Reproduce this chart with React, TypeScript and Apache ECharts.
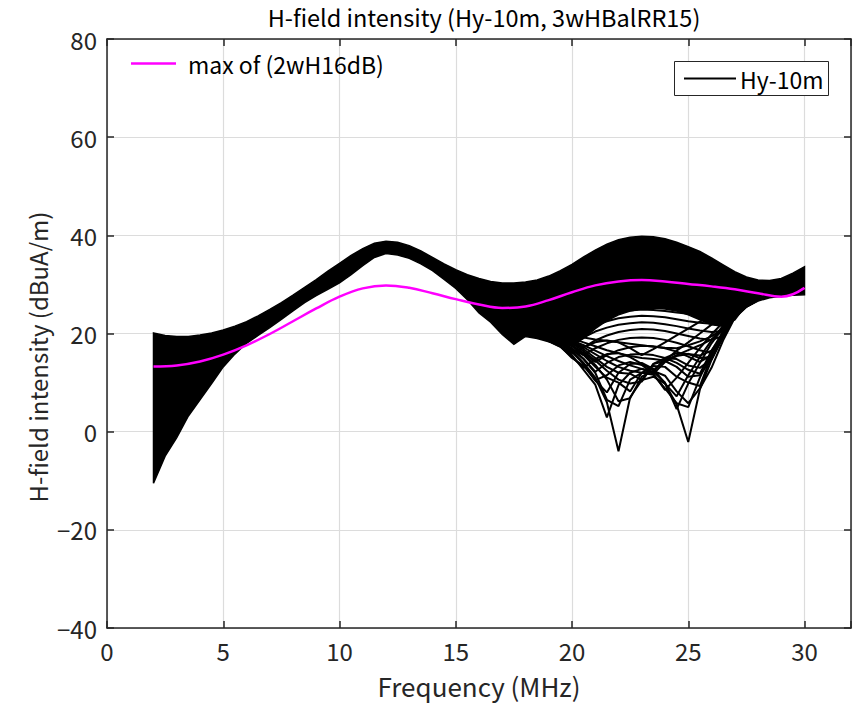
import React, { useEffect, useRef } from "react";
import * as echarts from "echarts";

// Frequency grid (MHz) for the dense band of Hy-10m curves
const bandFreq = [2, 2.5, 3, 3.5, 4, 4.5, 5, 5.5, 6, 6.5, 7, 7.5, 8, 8.5, 9, 9.5, 10, 10.5, 11, 11.5, 12, 12.5, 13, 13.5, 14, 14.5, 15, 15.5, 16, 16.5, 17, 17.5, 18, 18.5, 19, 19.5, 20, 20.5, 21, 21.5, 22, 22.5, 23, 23.5, 24, 24.5, 25, 25.5, 26, 26.5, 27, 27.5, 28, 28.5, 29, 29.5, 30];
// upper envelope of the Hy-10m family (dBuA/m)
const bandUpper = [20.1, 19.6, 19.4, 19.4, 19.7, 20.1, 20.7, 21.5, 22.4, 23.6, 24.9, 26.3, 27.8, 29.4, 31.0, 32.7, 34.3, 35.9, 37.3, 38.4, 38.8, 38.6, 37.9, 36.8, 35.5, 34.2, 33.0, 32.0, 31.2, 30.6, 30.3, 30.3, 30.5, 30.9, 31.7, 32.8, 34.1, 35.6, 37.0, 38.2, 39.1, 39.6, 39.8, 39.7, 39.3, 38.6, 37.7, 36.7, 35.4, 34.0, 32.6, 31.5, 30.9, 30.8, 31.2, 32.3, 33.6];
// lower edge of the densely packed part of the family
const bandLower = [-10.5, -5.0, -1.2, 3.2, 6.5, 9.8, 13.2, 15.8, 18.0, 19.6, 21.2, 22.9, 24.6, 26.3, 27.7, 29.0, 30.3, 32.0, 33.8, 35.5, 36.3, 36.0, 35.3, 34.2, 32.8, 31.0, 29.2, 26.9, 24.2, 22.3, 19.8, 17.8, 19.4, 19.0, 18.3, 17.8, 17.6, 19.0, 21.0, 22.6, 23.8, 24.6, 25.0, 25.2, 25.0, 24.6, 23.8, 22.8, 21.8, 21.5, 23.4, 25.4, 26.6, 27.3, 27.6, 27.8, 27.9];

// Frequency grid of the individually visible Hy-10m curves (null region)
const netFreq = [19, 19.5, 20, 20.5, 21, 21.5, 22, 22.5, 23, 23.5, 24, 24.5, 25, 25.5, 26, 26.5, 27, 27.5, 28];
const hyA = [19.0, 18.0, 16.5, 14.0, 11.0, 6.0, -4.0, 7.0, 10.5, 11.2, 9.8, 5.5, -2.1, 8.6, 14.6, 19.3, 23.4, 25.5, 26.8];
const hyB = [18.6, 17.4, 15.6, 12.6, 9.6, 2.9, 9.5, 12.0, 12.8, 12.2, 10.0, 4.6, 9.8, 14.0, 18.0, 21.2, 24.0, 25.8, 27.0];
const hyC = [19.4, 18.6, 17.4, 15.6, 13.2, 11.0, 10.0, 8.2, 12.0, 13.4, 13.2, 11.2, 10.0, 9.3, 15.5, 19.8, 23.6, 25.6, 26.9];
const hyD = [18.5, 17.4, 15.0, 13.4, 10.5, 11.5, 13.5, 14.2, 13.6, 11.8, 8.5, 11.0, 14.0, 17.0, 19.8, 22.3, 24.5, 26.0, 27.1];
const hyE = [19.8, 19.2, 18.2, 16.8, 15.0, 13.2, 12.0, 11.8, 10.5, 13.8, 15.0, 14.8, 13.5, 13.0, 14.8, 20.0, 23.8, 25.7, 27.0];
const hyF = [18.4, 17.3, 15.2, 13.0, 14.8, 15.8, 16.0, 15.2, 13.8, 12.5, 14.5, 16.5, 18.2, 20.0, 21.8, 23.4, 25.0, 26.3, 27.3];
const hyG = [18.8, 18.0, 16.8, 14.8, 12.2, 14.0, 15.2, 15.7, 15.8, 15.6, 15.0, 14.0, 12.6, 11.8, 16.5, 20.4, 23.6, 25.6, 26.9];
const hyH = [19.2, 18.6, 17.6, 16.0, 14.2, 15.6, 16.6, 17.2, 17.5, 17.4, 17.0, 16.3, 15.3, 14.2, 15.6, 20.2, 23.7, 25.7, 27.0];
const hyI = [18.8, 18.0, 16.8, 15.6, 17.0, 18.0, 18.7, 19.1, 19.2, 19.1, 18.7, 18.1, 17.4, 16.6, 16.0, 20.4, 23.8, 25.8, 27.0];
const hyJ = [19.3, 18.7, 17.9, 17.2, 18.6, 19.6, 20.3, 20.7, 20.9, 20.8, 20.5, 20.0, 19.5, 19.0, 18.7, 19.5, 23.9, 25.9, 27.1];
const hyK = [18.9, 18.3, 17.8, 19.2, 20.4, 21.2, 21.8, 22.1, 22.3, 22.2, 21.9, 21.5, 21.0, 20.6, 20.3, 20.5, 24.0, 26.0, 27.1];
const hyL = [19.4, 19.0, 18.8, 20.3, 21.6, 22.5, 23.1, 23.4, 23.6, 23.5, 23.3, 22.9, 22.5, 22.2, 22.0, 22.2, 22.8, 26.0, 27.2];
const hyM = [19.2, 18.9, 20.4, 21.8, 23.0, 23.8, 24.4, 24.7, 24.9, 24.8, 24.6, 24.3, 24.0, 23.8, 23.7, 23.8, 24.1, 26.2, 27.3];
const hyN = [19.8, 20.0, 21.6, 23.0, 24.2, 25.0, 25.6, 25.9, 26.1, 26.0, 25.8, 25.6, 25.3, 25.2, 25.2, 25.3, 25.6, 26.4, 27.4];
const hyO = [19.9, 19.4, 18.6, 17.6, 16.5, 15.4, 14.4, 13.5, 12.8, 11.8, 14.2, 15.4, 15.8, 15.5, 16.5, 19.8, 23.6, 25.6, 26.9];
const hyP = [20.1, 19.7, 19.0, 18.2, 17.4, 16.6, 16.0, 15.4, 15.0, 14.8, 14.5, 15.6, 16.6, 17.6, 18.8, 20.6, 23.9, 25.8, 27.0];
const hyQ = [20.3, 20.0, 19.6, 19.2, 18.8, 18.5, 18.2, 17.9, 17.6, 17.3, 17.1, 17.0, 17.6, 18.4, 19.4, 21.0, 24.0, 25.9, 27.1];
const hyR = [18.5, 17.4, 16.0, 17.2, 18.2, 18.6, 18.2, 17.0, 15.6, 16.8, 18.2, 19.6, 21.0, 22.4, 23.6, 24.8, 26.0, 26.9, 27.6];
const hyS = [18.9, 17.8, 16.2, 13.8, 10.4, 8.0, 12.0, 13.8, 14.0, 12.8, 9.8, 7.2, 11.5, 15.2, 18.6, 21.6, 24.2, 25.9, 27.0];
const hyT = [19.3, 18.4, 17.0, 14.8, 12.0, 6.5, 5.2, 10.6, 12.0, 11.6, 8.8, 5.8, 5.0, 11.0, 16.0, 20.0, 23.6, 25.6, 26.9];
const hyU = [19.5, 18.8, 17.6, 15.8, 13.6, 10.6, 6.2, 6.8, 11.2, 12.4, 11.4, 8.2, 5.8, 8.8, 13.0, 18.6, 23.2, 25.4, 26.8];
const hyV = [19.7, 19.0, 18.0, 16.4, 14.5, 12.4, 10.6, 9.8, 10.2, 13.8, 14.4, 13.2, 11.2, 11.5, 14.8, 19.4, 23.5, 25.6, 26.9];
const hyW = [19.9, 19.3, 18.4, 17.2, 15.8, 14.4, 13.2, 12.4, 12.0, 12.2, 15.0, 16.0, 15.8, 15.0, 15.2, 19.6, 23.6, 25.6, 26.9];
const netCurves = [hyA, hyB, hyC, hyD, hyE, hyF, hyG, hyH, hyI, hyJ, hyK, hyL, hyM, hyN, hyO, hyP, hyQ, hyR, hyS, hyT, hyU, hyV, hyW];

// max of (2wH16dB)
const maxFreq = [2, 3, 4, 5, 6, 7, 8, 9, 10, 11, 12, 13, 14, 15, 16, 17, 18, 19, 20, 21, 22, 23, 24, 25, 26, 27, 28, 29, 29.5, 30];
const maxValues = [13.3, 13.5, 14.3, 15.7, 17.6, 19.9, 22.5, 25.1, 27.5, 29.2, 29.8, 29.3, 28.2, 27.0, 25.9, 25.2, 25.5, 26.8, 28.4, 29.8, 30.6, 30.9, 30.6, 30.1, 29.6, 29.0, 28.2, 27.5, 28.0, 29.3];

const xTicks = [0, 5, 10, 15, 20, 25, 30];
const yTicks = [-40, -20, 0, 20, 40, 60, 80];

const FONT = '"Noto Sans CJK JP", "Noto Sans", sans-serif';
const INK = "#262626";

export default function App() {
  const ref = useRef<HTMLDivElement>(null);
  useEffect(() => {
    if (!ref.current) return;
    const chart = echarts.init(ref.current, null, { renderer: "svg" });

    const axisCommon = {
      axisLine: { show: true, onZero: false, lineStyle: { color: INK, width: 1.5 } },
      axisTick: { show: true, inside: true, length: 7, lineStyle: { color: INK, width: 1.5 } },
    };

    const series: any[] = [];
    series.push({
      type: "custom",
      xAxisIndex: 0,
      yAxisIndex: 0,
      silent: true,
      z: 2,
      data: [0],
      renderItem: (params: any, api: any) => {
        const pts: number[][] = [];
        bandFreq.forEach((f, i) => pts.push(api.coord([f, bandUpper[i]])));
        for (let i = bandFreq.length - 1; i >= 0; i--) pts.push(api.coord([bandFreq[i], bandLower[i]]));
        return {
          type: "polygon",
          shape: { points: pts },
          style: { fill: "#000", stroke: "#000", lineWidth: 1.5 },
        };
      },
    });
    netCurves.forEach((c) => {
      series.push({
        type: "line",
        name: "Hy-10m",
        xAxisIndex: 0,
        yAxisIndex: 0,
        data: netFreq.map((f, i) => [f, c[i]]),
        showSymbol: false,
        symbol: "none",
        lineStyle: { color: "#000", width: 2 },
        silent: true,
        z: 3,
      });
    });
    series.push({
      type: "line",
      name: "max of (2wH16dB)",
      xAxisIndex: 0,
      yAxisIndex: 0,
      data: maxFreq.map((f, i) => [f, maxValues[i]]),
      smooth: 0.4,
      showSymbol: false,
      symbol: "none",
      lineStyle: { color: "#ff00ff", width: 2.5 },
      silent: true,
      z: 5,
    });

    chart.setOption({
      animation: false,
      backgroundColor: "#fff",
      title: {
        text: "H-field intensity (Hy-10m, 3wHBalRR15)",
        left: 479,
        textAlign: "center",
        top: 0,
        textStyle: { fontFamily: FONT, fontSize: 23.5, fontWeight: "normal", color: "#000" },
      },
      grid: { left: 107, right: 7, top: 39, bottom: 75, containLabel: false },
      xAxis: [
        {
          type: "value",
          min: 0,
          max: 32,
          interval: 5,
          position: "bottom",
          ...axisCommon,
          axisLabel: {
            margin: 10,
            color: INK,
            fontFamily: FONT,
            fontSize: 24,
            formatter: (v: number) => (xTicks.includes(v) ? String(v) : ""),
          },
          splitLine: { show: true, lineStyle: { color: "#dcdcdc", width: 1.2 } },
          name: "Frequency (MHz)",
          nameLocation: "middle",
          nameGap: 44,
          nameTextStyle: { fontFamily: FONT, fontSize: 26, color: INK },
        },
        {
          type: "value",
          min: 0,
          max: 32,
          interval: 5,
          position: "top",
          ...axisCommon,
          axisLabel: { show: false },
          splitLine: { show: false },
        },
      ],
      yAxis: [
        {
          type: "value",
          min: -40,
          max: 80,
          interval: 20,
          position: "left",
          ...axisCommon,
          axisLabel: {
            margin: 10,
            color: INK,
            fontFamily: FONT,
            fontSize: 24,
            formatter: (v: number) => (yTicks.includes(v) ? String(v).replace("-", "\u2212") : ""),
          },
          splitLine: { show: true, lineStyle: { color: "#dcdcdc", width: 1.2 } },
        },
        {
          type: "value",
          min: -40,
          max: 80,
          interval: 20,
          position: "right",
          ...axisCommon,
          axisLabel: { show: false },
          splitLine: { show: false },
        },
      ],
      series,
      graphic: [
        {
          type: "text",
          x: 37,
          y: 357,
          rotation: Math.PI / 2,
          style: { text: "H-field intensity (dBuA/m)", fontFamily: FONT, fontSize: 24, fill: INK, verticalAlign: "middle", align: "center" },
          z: 100,
        },
        {
          type: "line",
          shape: { x1: 131, y1: 63.5, x2: 176, y2: 63.5 },
          style: { stroke: "#ff00ff", lineWidth: 2.5 },
          z: 100,
        },
        {
          type: "text",
          x: 188,
          y: 64,
          style: { text: "max of (2wH16dB)", fontFamily: FONT, fontSize: 23, fill: "#000", verticalAlign: "middle", align: "left" },
          z: 100,
        },
        {
          type: "rect",
          shape: { x: 674.5, y: 61.5, width: 154, height: 34 },
          style: { fill: "#fff", stroke: INK, lineWidth: 1 },
          z: 100,
        },
        {
          type: "line",
          shape: { x1: 684, y1: 78.5, x2: 736, y2: 78.5 },
          style: { stroke: "#000", lineWidth: 2 },
          z: 101,
        },
        {
          type: "text",
          x: 740,
          y: 79,
          style: { text: "Hy-10m", fontFamily: FONT, fontSize: 23, fill: "#000", verticalAlign: "middle", align: "left" },
          z: 101,
        },
      ],
    });
    return () => chart.dispose();
  }, []);
  return <div ref={ref} style={{ width: 858, height: 703, position: "absolute", left: 0, top: 0 }} />;
}
